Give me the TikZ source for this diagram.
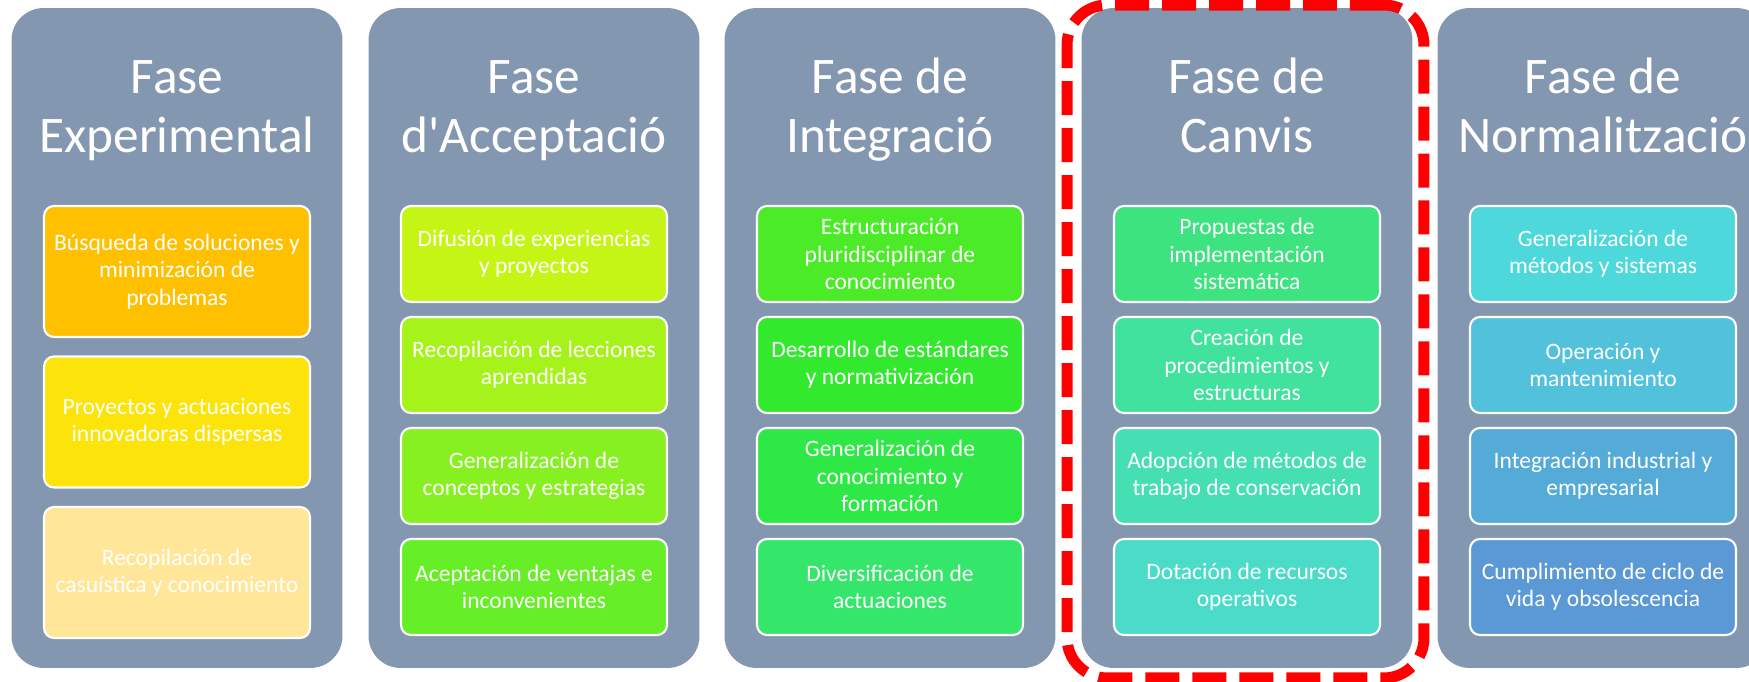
\documentclass[tikz,border=0pt]{standalone}
\usepackage{fontspec}
\setmainfont{Carlito}[Ligatures=TeXOff]
\definecolor{fasegris}{RGB}{132,151,176}
\definecolor{ex1}{RGB}{255,192,0}
\definecolor{ex2}{RGB}{252,228,10}
\definecolor{ex3}{RGB}{255,230,153}
\definecolor{ac1}{RGB}{197,245,21}
\definecolor{ac2}{RGB}{165,243,26}
\definecolor{ac3}{RGB}{134,240,32}
\definecolor{ac4}{RGB}{102,238,38}
\definecolor{in1}{RGB}{76,235,40}
\definecolor{in2}{RGB}{50,233,46}
\definecolor{in3}{RGB}{46,232,70}
\definecolor{in4}{RGB}{52,230,105}
\definecolor{ca1}{RGB}{61,227,127}
\definecolor{ca2}{RGB}{65,225,158}
\definecolor{ca3}{RGB}{69,223,179}
\definecolor{ca4}{RGB}{74,220,201}
\definecolor{no1}{RGB}{77,216,219}
\definecolor{no2}{RGB}{81,193,220}
\definecolor{no3}{RGB}{85,171,216}
\definecolor{no4}{RGB}{90,152,214}
\begin{document}
\begin{tikzpicture}[x=0.02cm,y=-0.02cm,
    fase/.style={fill=fasegris, rounded corners=0.64cm, minimum width=6.62cm, minimum height=13.2cm},
    titol/.style={text=white, align=center, anchor=base, font=\fontsize{29.2}{33.6}\selectfont},
    caixa/.style={draw=white, line width=1.2pt, rounded corners=0.2cm, text=white, align=center,
      minimum width=5.32cm, minimum height=1.92cm, font=\fontsize{13.4}{15.6}\selectfont},
    alta/.style={minimum height=2.62cm},
    marca/.style={draw=red, line width=0.22cm, dash pattern=on 0.68cm off 0.26cm,
      rounded corners=0.8cm, minimum width=7.14cm, minimum height=13.46cm}]
    \useasboundingbox (0,0) rectangle (1749,682);
    \clip (0,0) rectangle (1749,682);
    % columnes
    \node[fase] (FE) at (177,338)  {};
    \node[fase] (FA) at (534,338)  {};
    \node[fase] (FI) at (890,338)  {};
    \node[fase] (FC) at (1247,338) {};
    \node[fase] (FN) at (1603,338) {};
    \node[titol] (tFE) at (177,153)  {Fase\\Experimental};
    \node[titol] (tFA) at (534,153)  {Fase\\d'Acceptació};
    \node[titol] (tFI) at (890,153)  {Fase de\\Integració};
    \node[titol] (tFC) at (1247,153) {Fase de\\Canvis};
    \node[titol] (tFN) at (1603,153) {Fase de\\Normalització};
    % Fase Experimental
    \node[caixa,alta,fill=ex1] (FE1) at (177,271.5) {Búsqueda de soluciones y\\minimización de\\problemas};
    \node[caixa,alta,fill=ex2] (FE2) at (177,422)   {Proyectos y actuaciones\\innovadoras dispersas};
    \node[caixa,alta,fill=ex3] (FE3) at (177,572.5) {Recopilación de\\casuística y conocimiento};
    % Fase d'Acceptacio
    \node[caixa,fill=ac1] (FA1) at (534,254) {Difusión de experiencias\\y proyectos};
    \node[caixa,fill=ac2] (FA2) at (534,365) {Recopilación de lecciones\\aprendidas};
    \node[caixa,fill=ac3] (FA3) at (534,476) {Generalización de\\conceptos y estrategias};
    \node[caixa,fill=ac4] (FA4) at (534,587) {Aceptación de ventajas e\\inconvenientes};
    % Fase de Integracio
    \node[caixa,fill=in1] (FI1) at (890,254) {Estructuración\\pluridisciplinar de\\conocimiento};
    \node[caixa,fill=in2] (FI2) at (890,365) {Desarrollo de estándares\\y normativización};
    \node[caixa,fill=in3] (FI3) at (890,476) {Generalización de\\conocimiento y\\formación};
    \node[caixa,fill=in4] (FI4) at (890,587) {Diversificación de\\actuaciones};
    % Fase de Canvis
    \node[caixa,fill=ca1] (FC1) at (1247,254) {Propuestas de\\implementación\\sistemática};
    \node[caixa,fill=ca2] (FC2) at (1247,365) {Creación de\\procedimientos y\\estructuras};
    \node[caixa,fill=ca3] (FC3) at (1247,476) {Adopción de métodos de\\trabajo de conservación};
    \node[caixa,fill=ca4] (FC4) at (1247,587) {Dotación de recursos\\operativos};
    % Fase de Normalitzacio
    \node[caixa,fill=no1] (FN1) at (1603,254) {Generalización de\\métodos y sistemas};
    \node[caixa,fill=no2] (FN2) at (1603,365) {Operación y\\mantenimiento};
    \node[caixa,fill=no3] (FN3) at (1603,476) {Integración industrial y\\empresarial};
    \node[caixa,fill=no4] (FN4) at (1603,587) {Cumplimiento de ciclo de\\vida y obsolescencia};
    % fase destacada
    \node[marca] (hl) at (1245.5,341.5) {};
  \end{tikzpicture}
\end{document}
